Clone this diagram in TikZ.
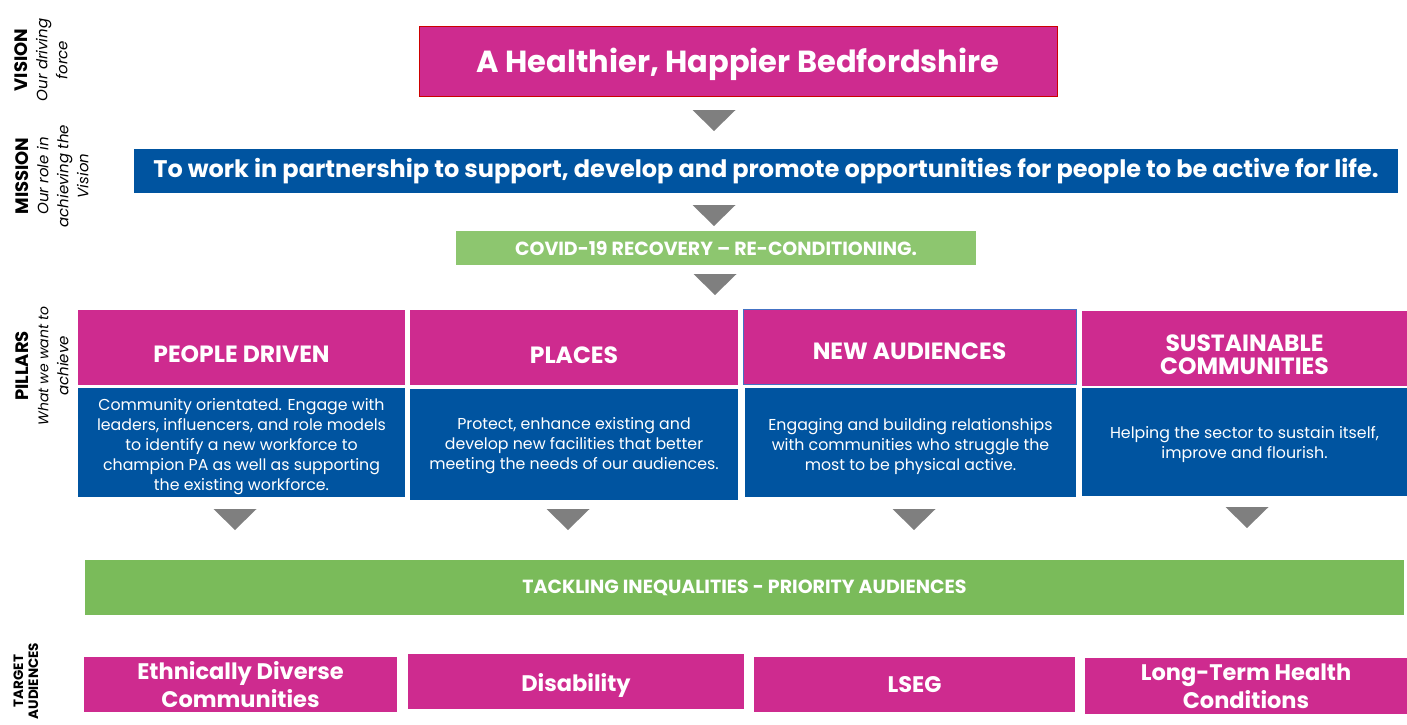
\documentclass[tikz,border=0pt]{standalone}
\usepackage{fontspec}
\setmainfont{Poppins}
\usetikzlibrary{positioning}
\definecolor{pink}{RGB}{206,43,143}
\definecolor{navy}{RGB}{0,84,160}
\definecolor{lgreen}{RGB}{141,198,111}
\definecolor{mgreen}{RGB}{122,187,90}
\definecolor{tri}{RGB}{127,127,127}
\definecolor{edgeblue}{RGB}{68,114,196}
\tikzset{
  blk/.style={anchor=north west, inner sep=0pt, outer sep=0pt, text=white, align=center},
  pinkbox/.style={blk, fill=pink},
  bluebox/.style={blk, fill=navy},
  greenbox/.style={blk, fill=lgreen},
  head/.style={font=\fontsize{23.5}{25}\selectfont\bfseries},
  body/.style={font=\fontsize{15.8}{20}\selectfont},
  side/.style={rotate=90, align=center, text=black, inner sep=0pt, font=\fontsize{15}{20}\selectfont},
  lower/.style={text height=#1, text depth=0pt},
  downtri/.style={fill=tri}
}
% a centred block of lines, moved down by #1
\newcommand{\stackedlines}[2]{\raisebox{#1}[0pt][0pt]{\begin{tabular}{@{}c@{}}#2\end{tabular}}}
\newcommand{\sidehead}[1]{{\fontsize{18}{20}\selectfont\bfseries #1}}
\newcommand{\downarrowat}[2]{\fill[downtri] (#1-21.5,#2) -- (#1+21.5,#2) -- (#1,#2+21) -- cycle;}
\begin{document}
\begin{tikzpicture}[x=1pt,y=-1pt]
\useasboundingbox (0,0) rectangle (1407,724);

% side captions
\node[side] (lvision) at (41,60) {\sidehead{VISION}\\ \textit{Our driving}\\ \textit{force}};
\node[side] (lmission) at (52,176) {\sidehead{MISSION}\\ \textit{Our role in}\\ \textit{achieving the}\\ \textit{Vision}};
\node[side] (lpillars) at (42,366) {\sidehead{PILLARS}\\ \textit{\fontsize{14}{20}\selectfont What we want to}\\ \textit{achieve}};
\node[side, font=\fontsize{13.5}{15}\selectfont\bfseries] (ltarget) at (26,681) {TARGET\\ AUDIENCES};

% vision
\node[pinkbox, draw=red!80!black, line width=0.8pt, minimum width=638pt, minimum height=70pt,
      font=\fontsize{30.5}{32}\selectfont\bfseries, lower=22.4pt] (vision) at (419,26) {A Healthier, Happier Bedfordshire};
\downarrowat{714}{110}

% mission
\node[bluebox, minimum width=1264pt, minimum height=44pt,
      font=\fontsize{24}{26}\selectfont\bfseries] (mission) at (134,149)
      {To work in partnership to support, develop and promote opportunities for people to be active for life.};
\downarrowat{714}{205}

% covid recovery
\node[greenbox, minimum width=520pt, minimum height=34pt,
      font=\fontsize{19}{21}\selectfont\bfseries] (covid) at (456,231) {COVID-19 RECOVERY -- RE-CONDITIONING.};
\downarrowat{715}{274}

% pillar headers
\node[pinkbox, head, lower=30.4pt, minimum width=327pt, minimum height=75pt] (h1) at (78,310) {PEOPLE DRIVEN};
\node[pinkbox, head, lower=32.4pt, minimum width=328pt, minimum height=75pt] (h2) at (410,310) {PLACES};
\node[pinkbox, head, lower=26.4pt, draw=edgeblue, line width=0.8pt, minimum width=333pt, minimum height=75pt] (h3) at (743,309) {NEW AUDIENCES};
\node[pinkbox, head, minimum width=325pt, minimum height=75pt] (h4) at (1082,311)
  {\stackedlines{-15.5pt}{SUSTAINABLE\\[-2pt]COMMUNITIES}};

% pillar descriptions
\node[bluebox, body, minimum width=327pt, minimum height=109pt] (b1) at (78,388)
  {\stackedlines{-8pt}{Community orientated. Engage with\\ leaders, influencers, and role models\\ to identify a new workforce to\\ champion PA as well as supporting\\ the existing workforce.}};
\node[bluebox, body, minimum width=328pt, minimum height=111pt] (b2) at (410,389)
  {\stackedlines{-5pt}{Protect, enhance existing and\\ develop new facilities that better\\ meeting the needs of our audiences.}};
\node[bluebox, body, minimum width=331pt, minimum height=109pt] (b3) at (745,388)
  {\stackedlines{-8pt}{Engaging and building relationships\\ with communities who struggle the\\ most to be physical active.}};
\node[bluebox, body, minimum width=325pt, minimum height=108pt] (b4) at (1082,388)
  {\stackedlines{-6pt}{Helping the sector to sustain itself,\\ improve and flourish.}};

\downarrowat{235}{509}
\downarrowat{568}{509}
\downarrowat{914}{509}
\downarrowat{1247}{507}

% priority audiences
\node[blk, fill=mgreen, minimum width=1319pt, minimum height=55pt,
      font=\fontsize{19}{21}\selectfont\bfseries] (tackle) at (85,560) {TACKLING INEQUALITIES - PRIORITY AUDIENCES};

% target audiences
\tikzset{aud/.style={pinkbox, font=\fontsize{22.5}{28}\selectfont\bfseries}}
\node[aud, minimum width=313pt, minimum height=55pt] (t1) at (84,657) {Ethnically Diverse\\Communities};
\node[aud, lower=20.8pt, minimum width=336pt, minimum height=55pt] (t2) at (408,654) {Disability};
\node[aud, minimum width=321pt, minimum height=55pt] (t3) at (754,657) {LSEG};
\node[aud, minimum width=322pt, minimum height=56pt] (t4) at (1085,658) {Long-Term Health\\Conditions};
\end{tikzpicture}
\end{document}
